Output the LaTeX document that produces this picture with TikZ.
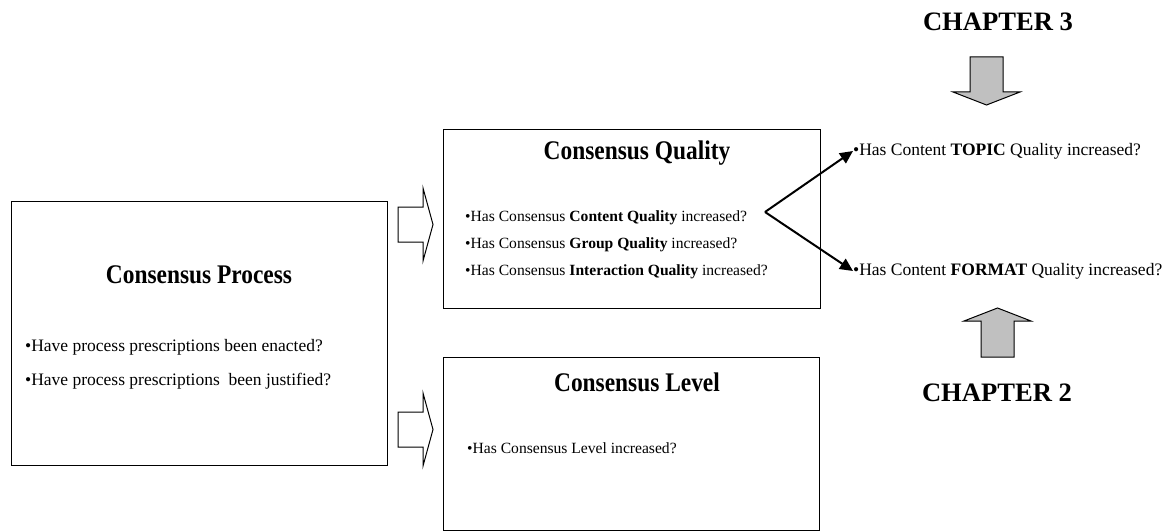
\documentclass[tikz,border=0pt]{standalone}
\usepackage{fontspec}
\setmainfont{Liberation Serif}
\usepackage{graphicx}
\usetikzlibrary{arrows.meta}
\definecolor{arrgray}{HTML}{C0C0C0}
\begin{document}
\begin{tikzpicture}[x=1pt,y=-1pt,
 box/.style={draw,line width=1.4pt,inner sep=0pt,anchor=north west},
 ttl/.style={font=\fontsize{23.4}{26}\selectfont\bfseries,inner sep=0pt},
 chap/.style={font=\fontsize{26.6}{30}\selectfont\bfseries,inner sep=0pt},
 big/.style={font=\fontsize{17.5}{20}\selectfont,inner sep=0pt,anchor=west},
 small/.style={font=\fontsize{15.6}{18}\selectfont,inner sep=0pt,anchor=west},
 hollow/.style={draw,line width=1pt,fill=white,line join=miter},
 grayarr/.style={draw,line width=1pt,fill=arrgray,line join=miter},
 link/.style={line width=2pt,-{Triangle[length=13pt,width=12pt]}}]
\useasboundingbox (0,0) rectangle (1174,532);

% boxes
\node[box,minimum width=376pt,minimum height=264pt] (proc) at (11,201) {};
\node[box,minimum width=377pt,minimum height=179pt] (qual) at (443,129) {};
\node[box,minimum width=376pt,minimum height=173pt] (lev) at (443,357) {};

% titles
\node[ttl] (proct) at (199,275) {\scalebox{1}[1.15]{Consensus Process}};
\node[ttl] (qualt) at (637,153) {\scalebox{1}[1.15]{Consensus Quality}};
\node[ttl] (levt) at (637,382) {\scalebox{1}[1.15]{Consensus Level}};

% process bullets
\node[big] (p1) at (25,347) {•Have process prescriptions been enacted?};
\node[big] (p2) at (25,381) {•Have process prescriptions\ \ been justified?};

% quality bullets
\node[small] (q1) at (465,218) {•Has Consensus \textbf{Content Quality} increased?};
\node[small] (q2) at (465,245) {•Has Consensus \textbf{Group Quality} increased?};
\node[small] (q3) at (465,272) {•Has Consensus \textbf{Interaction Quality} increased?};

% level bullet
\node[small] (l1) at (467,448) {•Has Consensus Level increased?};

% right texts
\node[big] (topic) at (853,151) {•Has Content \textbf{TOPIC} Quality increased?};
\node[big] (format) at (853,271) {•Has Content \textbf{FORMAT} Quality increased?};

% chapters
\node[chap] (ch3) at (998,22) {CHAPTER 3};
\node[chap] (ch2) at (997,393) {CHAPTER 2};

% hollow block arrows
\draw[hollow] (398,207) -- (423,207) -- (423,188) -- (433,224.5) -- (423,261) -- (423,242) -- (398,242) -- cycle;
\draw[hollow] (398,412) -- (423,412) -- (423,393) -- (433,429.5) -- (423,466) -- (423,447) -- (398,447) -- cycle;

% gray block arrows
\draw[grayarr] (970,57) -- (1003,57) -- (1003,92) -- (1020,92) -- (986.5,105) -- (953,92) -- (970,92) -- cycle;
\draw[grayarr] (981,357) -- (1014,357) -- (1014,321) -- (1031,321) -- (997.5,308) -- (964,321) -- (981,321) -- cycle;

% split arrows
\coordinate (v) at (765,212);
\draw[link] (v) -- (topic.west);
\draw[link] (v) -- (format.west);
\end{tikzpicture}
\end{document}
